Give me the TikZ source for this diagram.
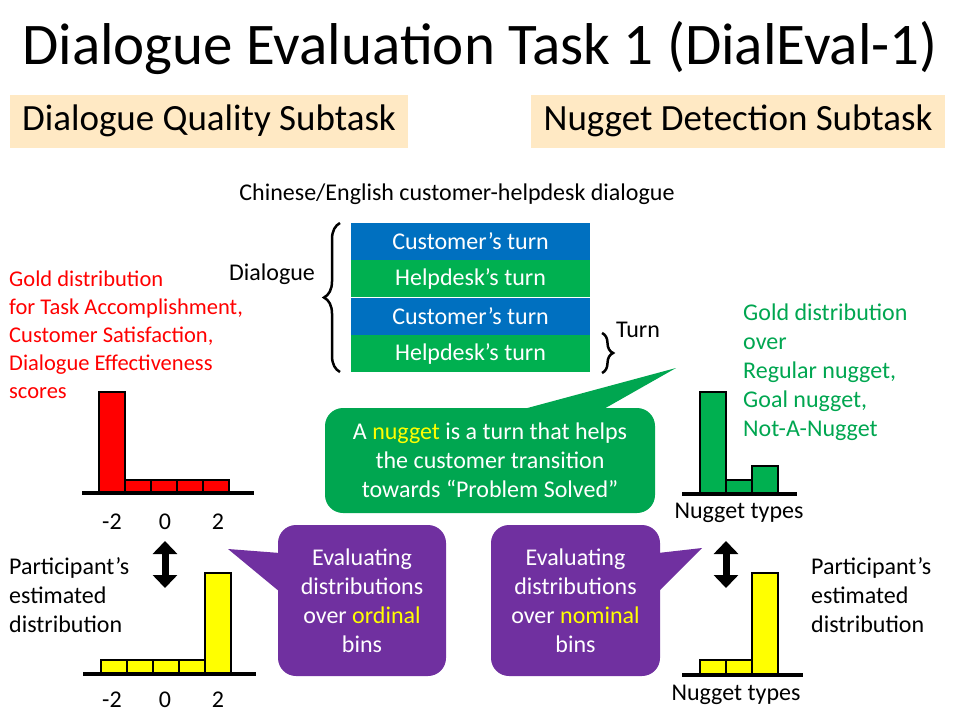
\documentclass[tikz,border=0pt]{standalone}
\usepackage{fontspec}
\setmainfont{Carlito}
\usetikzlibrary{arrows.meta,decorations.pathreplacing,positioning}
\definecolor{tblue}{HTML}{0070C0}
\definecolor{tgreen}{HTML}{00B050}
\definecolor{tpurple}{HTML}{7030A0}
\definecolor{tred}{HTML}{FF0000}
\definecolor{tyellow}{HTML}{FFFF00}
\definecolor{tdgreen}{HTML}{00A650}
\definecolor{tbox}{HTML}{FFE9C4}
\newcommand{\fs}[2]{\fontsize{#1}{#2}\selectfont}
\tikzset{
  turn/.style={minimum width=239pt,minimum height=37pt,inner sep=0pt,text=white,font=\fs{24}{29}},
  bar/.style={draw=black,line width=2.5pt},
  base/.style={line width=3.5pt},
  lbl/.style={font=\fs{24}{29},inner sep=0pt},
  dbl/.style={line width=7pt,{Triangle[width=24pt,length=13pt]}-{Triangle[width=24pt,length=13pt]}},
  bubble/.style={rounded corners=18pt,inner sep=0pt,align=center,text=white,font=\fs{24}{29}},
}
\begin{document}
\begin{tikzpicture}[x=1pt,y=-1pt]
\useasboundingbox (0,0) rectangle (960,720);

% title and subtasks
\node[font=\fs{59}{60}] (title) at (480,48) {Dialogue Evaluation Task 1 (DialEval-1)};
\node[fill=tbox,minimum width=398pt,minimum height=53pt,font=\fs{37}{40}] (dq) at (209,121) {Dialogue Quality Subtask};
\node[fill=tbox,minimum width=414pt,minimum height=53pt,font=\fs{37}{40}] (nd) at (738,121) {Nugget Detection Subtask};

% dialogue
\node[lbl] (cap) at (457,194) {Chinese/English customer-helpdesk dialogue};
\node[turn,fill=tblue] (t1) at (470.5,241.5) {Customer’s turn};
\node[turn,fill=tgreen,below=0pt of t1] (t2) {Helpdesk’s turn};
\node[turn,fill=tblue,below=0pt of t2] (t3) {Customer’s turn};
\node[turn,fill=tgreen,below=0pt of t3] (t4) {Helpdesk’s turn};
\draw[line width=2.5pt,decorate,decoration={brace,amplitude=16pt}]
  (340,372) -- (340,223) coordinate (bt);
\node[lbl] (dlg) at (272,274) {Dialogue};
\draw[line width=2.5pt,decorate,decoration={brace,amplitude=11pt}]
  (602,333) -- (602,373);
\node[lbl] (trn) at (638,330) {Turn};

% gold text
\node[lbl,anchor=north west,align=left,text=tred,font=\fs{22.5}{28}] (goldl) at (9,271)
  {Gold distribution\\for Task Accomplishment,\\Customer Satisfaction,\\Dialogue Effectiveness\\scores};
\node[lbl,anchor=north west,align=left,text=tdgreen] (goldr) at (743,304)
  {Gold distribution\\over\\Regular nugget,\\Goal nugget,\\Not-A-Nugget};
\node[lbl,anchor=north west,align=left] (partl) at (9,557)
  {Participant’s\\estimated\\distribution};
\node[lbl,anchor=north west,align=left] (partr) at (811,557)
  {Participant’s\\estimated\\distribution};

% left histograms
\draw[bar,fill=tred] (99,493) rectangle (125,392);
\foreach \i in {0,...,3}
  \draw[bar,fill=tred] (125+26*\i,493) rectangle (151+26*\i,480);
\draw[base] (82,493) -- (254,493);
\draw[bar,fill=tyellow] (205,674) rectangle (231,573);
\foreach \i in {0,...,3}
  \draw[bar,fill=tyellow] (101+26*\i,674) rectangle (127+26*\i,660);
\draw[base] (83,674) -- (256,674);
\foreach \x/\t [count=\k] in {112/-2,165/0,218/2} {
  \node[lbl] (ga\k) at (\x,522) {\t};
  \node[lbl] (pa\k) at (\x,700) {\t};
}
\coordinate (la1) at (165,541);
\coordinate (la2) at (165,588);
\draw[dbl] (la1) -- (la2);

% right histograms
\draw[bar,fill=tgreen] (700,494) rectangle (726,392);
\draw[bar,fill=tgreen] (726,494) rectangle (752,480);
\draw[bar,fill=tgreen] (752,494) rectangle (778,466);
\draw[base] (682,494) -- (797,494);
\node[lbl] (nt1) at (739,513) {Nugget types};
\draw[bar,fill=tyellow] (700,675) rectangle (726,660);
\draw[bar,fill=tyellow] (726,675) rectangle (752,660);
\draw[bar,fill=tyellow] (752,675) rectangle (778,573);
\draw[base] (682,675) -- (803,675);
\node[lbl] (nt2) at (736,695) {Nugget types};
\coordinate (ra1) at (726,541);
\coordinate (ra2) at (726,588);
\draw[dbl] (ra1) -- (ra2);

% callouts
\fill[tdgreen] (520,410) -- (676,368) -- (602,410) -- cycle;
\node[bubble,fill=tdgreen,minimum width=330pt,minimum height=105pt] (def) at (490,460.5)
  {A \textcolor{tyellow}{nugget} is a turn that helps\\the customer transition\\towards “Problem Solved”};
\fill[tpurple] (280,553) -- (228,549) -- (280,592) -- cycle;
\node[bubble,fill=tpurple,minimum width=168pt,minimum height=151pt] (ord) at (362,600.5)
  {Evaluating\\distributions\\over \textcolor{tyellow}{ordinal}\\bins};
\fill[tpurple] (658,553) -- (702,548) -- (658,592) -- cycle;
\node[bubble,fill=tpurple,minimum width=169pt,minimum height=151pt] (nom) at (575.5,600.5)
  {Evaluating\\distributions\\over \textcolor{tyellow}{nominal}\\bins};
\end{tikzpicture}
\end{document}
